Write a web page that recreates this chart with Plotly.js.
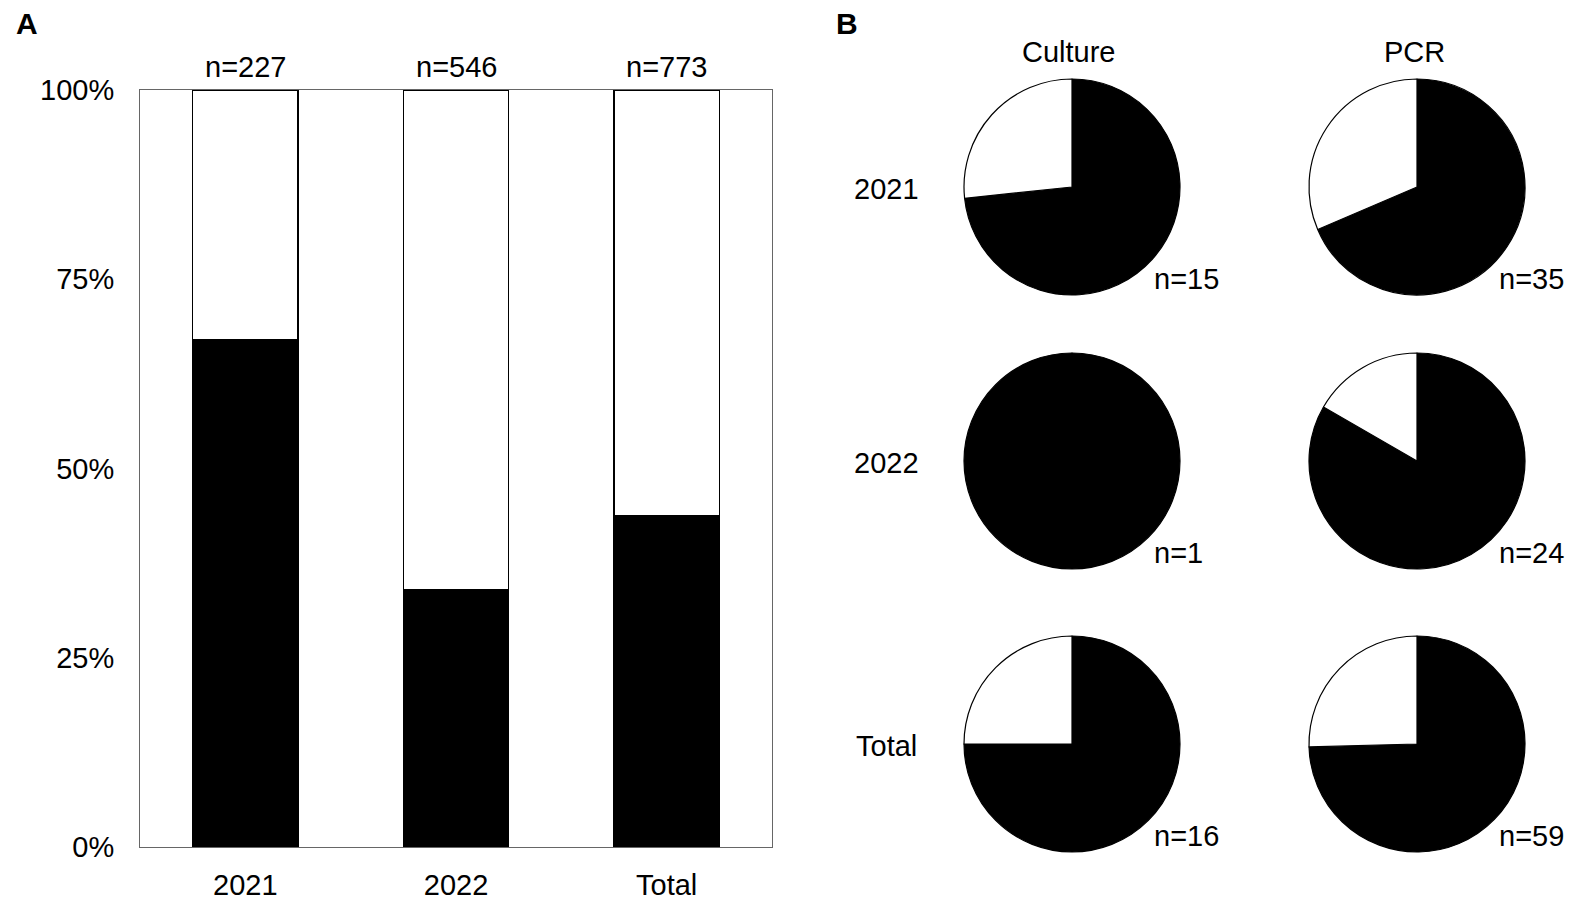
<!DOCTYPE html>
<html>
<head>
<meta charset="utf-8">
<script src="https://cdn.plot.ly/plotly-3.0.1.min.js"></script>
<style>html,body{margin:0;padding:0;background:#fff;}#chart{width:1571px;height:901px;}</style>
</head>
<body>
<div id="chart"></div>
<script>
// ---- Data ----
const barCategories = ["2021", "2022", "Total"];
const barN = [227, 546, 773];
const positivePct = [67.0, 34.0, 43.7];
const negativePct = [33.0, 66.0, 56.3];
const yTickVals = [0, 25, 50, 75, 100];
const yTickText = ["0%", "25%", "50%", "75%", "100%"];

const pieColumns = ["Culture", "PCR"];
const pieRows = ["2021", "2022", "Total"];
// [positive, negative] counts per row
const culturePositive = [11, 1, 12];
const cultureNegative = [4, 0, 4];
const pcrPositive = [24, 20, 44];
const pcrNegative = [11, 4, 15];

// ---- Layout helpers ----
const W = 1571, H = 901;
const FONT = "Liberation Sans, Arial, Helvetica, sans-serif";
const FS = 29;
const px = x => x / W;
const py = y => 1 - y / H;

const plotL = 140, plotR = 772, plotT = 90, plotB = 847;

const colCenters = [1072, 1417];
const rowCenters = [187, 461, 744];
const R = 108;

const traces = [
  {
    type: "bar", x: barCategories, y: positivePct, name: "positive",
    marker: {color: "#000", line: {color: "#000", width: 1.5}},
    hoverinfo: "skip", showlegend: false
  },
  {
    type: "bar", x: barCategories, y: negativePct, name: "negative",
    marker: {color: "#fff", line: {color: "#000", width: 1.5}},
    hoverinfo: "skip", showlegend: false
  }
];

const pieData = [
  {pos: culturePositive, neg: cultureNegative},
  {pos: pcrPositive, neg: pcrNegative}
];
pieData.forEach((col, ci) => {
  pieRows.forEach((row, ri) => {
    const cx = colCenters[ci], cy = rowCenters[ri];
    traces.push({
      type: "pie",
      values: [col.pos[ri], col.neg[ri]],
      labels: ["positive", "negative"],
      sort: false,
      direction: "clockwise",
      rotation: 0,
      textinfo: "none",
      hoverinfo: "skip",
      showlegend: false,
      marker: {colors: ["#000", "#fff"], line: {color: "#000", width: 1.2}},
      domain: {x: [px(cx - R), px(cx + R)], y: [py(cy + R), py(cy - R)]}
    });
  });
});

const annotations = [];
const txt = (x, y, text, size, bold) => annotations.push({
  xref: "paper", yref: "paper", x: px(x), y: py(y), text: bold ? "<b>" + text + "</b>" : text,
  showarrow: false, xanchor: "center", yanchor: "middle",
  font: {family: FONT, size: size, color: "#000"}
});

txt(27, 24, "A", 30, true);
txt(847, 24, "B", 30, true);

// n labels above bars
const catWidth = (plotR - plotL) / barCategories.length;
barCategories.forEach((c, i) => {
  txt(plotL + catWidth * (i + 0.5), 67, "n=" + barN[i], FS);
});

// pie headers, row labels, n labels
pieColumns.forEach((c, ci) => txt(colCenters[ci] - 3, 52, c, FS));
pieRows.forEach((r, ri) => txt(886, rowCenters[ri] + 2, r, FS));
pieData.forEach((col, ci) => {
  pieRows.forEach((row, ri) => {
    const n = col.pos[ri] + col.neg[ri];
    annotations.push({
      xref: "paper", yref: "paper",
      x: px(colCenters[ci] + 80), y: py(rowCenters[ri] + 92),
      text: "n=" + n, showarrow: false, xanchor: "left", yanchor: "middle",
      font: {family: FONT, size: FS, color: "#000"}
    });
  });
});

const layout = {
  width: W, height: H,
  margin: {l: 0, r: 0, t: 0, b: 0, pad: 0},
  paper_bgcolor: "#fff", plot_bgcolor: "#fff",
  barmode: "stack", bargap: 0.5,
  font: {family: FONT, size: FS, color: "#000"},
  xaxis: {
    type: "category",
    domain: [px(plotL), px(plotR)],
    showline: true, mirror: true, linecolor: "#666", linewidth: 1,
    showgrid: false, zeroline: false,
    ticks: "outside", ticklen: 12, tickcolor: "rgba(0,0,0,0)",
    tickfont: {family: FONT, size: FS, color: "#000"}
  },
  yaxis: {
    domain: [py(plotB), py(plotT)],
    range: [0, 100],
    tickvals: yTickVals, ticktext: yTickText,
    showline: true, mirror: true, linecolor: "#666", linewidth: 1,
    showgrid: false, zeroline: false,
    ticks: "outside", ticklen: 19, tickcolor: "rgba(0,0,0,0)",
    tickfont: {family: FONT, size: FS, color: "#000"}
  },
  annotations: annotations
};

Plotly.newPlot("chart", traces, layout, {displayModeBar: false, staticPlot: true});
</script>
</body>
</html>
